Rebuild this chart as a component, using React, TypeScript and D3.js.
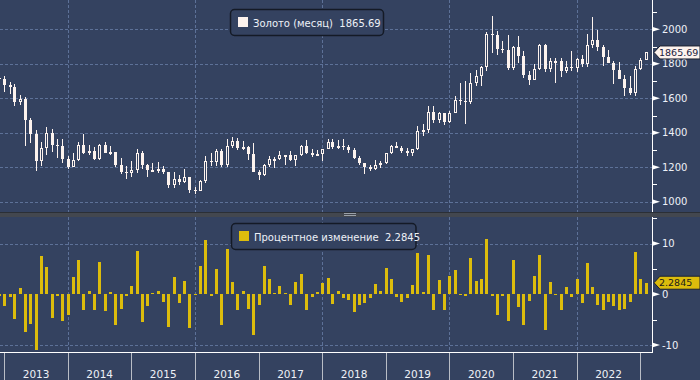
import React from "react";
import * as d3 from "d3";

const months: string[] = [
  "2012-11","2012-12",
  "2013-01","2013-02","2013-03","2013-04","2013-05","2013-06","2013-07","2013-08","2013-09","2013-10","2013-11","2013-12",
  "2014-01","2014-02","2014-03","2014-04","2014-05","2014-06","2014-07","2014-08","2014-09","2014-10","2014-11","2014-12",
  "2015-01","2015-02","2015-03","2015-04","2015-05","2015-06","2015-07","2015-08","2015-09","2015-10","2015-11","2015-12",
  "2016-01","2016-02","2016-03","2016-04","2016-05","2016-06","2016-07","2016-08","2016-09","2016-10","2016-11","2016-12",
  "2017-01","2017-02","2017-03","2017-04","2017-05","2017-06","2017-07","2017-08","2017-09","2017-10","2017-11","2017-12",
  "2018-01","2018-02","2018-03","2018-04","2018-05","2018-06","2018-07","2018-08","2018-09","2018-10","2018-11","2018-12",
  "2019-01","2019-02","2019-03","2019-04","2019-05","2019-06","2019-07","2019-08","2019-09","2019-10","2019-11","2019-12",
  "2020-01","2020-02","2020-03","2020-04","2020-05","2020-06","2020-07","2020-08","2020-09","2020-10","2020-11","2020-12",
  "2021-01","2021-02","2021-03","2021-04","2021-05","2021-06","2021-07","2021-08","2021-09","2021-10","2021-11","2021-12",
  "2022-01","2022-02","2022-03","2022-04","2022-05","2022-06","2022-07","2022-08","2022-09","2022-10","2022-11","2022-12",
  "2023-01",
];

const openV: number[] = [
  1719,1712,
  1675,1663,1578,1595,1472,1393,1234,1313,1396,1327,1323,1250,
  1202,1240,1326,1284,1296,1250,1327,1282,1287,1210,1171,1167,
  1184,1284,1213,1183,1184,1190,1172,1095,1134,1115,1142,1065,
  1061,1118,1238,1233,1293,1215,1322,1351,1309,1316,1277,1173,
  1152,1211,1249,1249,1268,1268,1242,1269,1322,1280,1271,1275,
  1303,1345,1318,1325,1315,1299,1253,1224,1202,1192,1215,1222,
  1282,1321,1313,1292,1284,1305,1409,1414,1520,1472,1513,1464,
  1517,1589,1585,1577,1687,1730,1781,1975,1968,1886,1879,1776,
  1898,1848,1734,1708,1769,1907,1770,1814,1814,1757,1783,1774,
  1829,1797,1909,1937,1897,1837,1807,1766,1711,1661,1633,1768,
  1824.02,
];
const highV: number[] = [
  1755,1727,
  1694,1684,1617,1605,1488,1417,1348,1434,1424,1362,1361,1267,
  1280,1345,1392,1331,1315,1332,1345,1323,1290,1255,1208,1238,
  1307,1292,1219,1224,1232,1205,1172,1170,1157,1191,1142,1088,
  1123,1263,1283,1304,1303,1362,1375,1367,1352,1325,1338,1181,
  1220,1264,1261,1296,1270,1296,1272,1331,1357,1306,1299,1307,
  1366,1361,1356,1365,1326,1309,1265,1225,1214,1243,1237,1284,
  1326,1347,1325,1310,1306,1439,1452,1555,1557,1519,1516,1524,
  1611,1689,1703,1747,1765,1789,1984,2075,1992,1933,1966,1906,
  1959,1872,1756,1798,1913,1917,1833,1834,1834,1814,1877,1831,
  1853,1974,2070,1998,1910,1879,1814,1808,1735,1730,1786,1833,
  1870,
];
const lowV: number[] = [
  1672,1636,
  1626,1555,1562,1321,1338,1180,1207,1271,1291,1251,1226,1187,
  1202,1238,1277,1268,1240,1240,1280,1273,1204,1160,1131,1142,
  1167,1191,1142,1170,1169,1162,1077,1080,1098,1107,1052,1046,
  1061,1107,1208,1207,1200,1200,1310,1301,1302,1241,1171,1123,
  1147,1200,1195,1240,1214,1236,1205,1265,1277,1260,1264,1237,
  1303,1307,1303,1302,1282,1246,1211,1160,1180,1182,1196,1221,
  1276,1311,1281,1266,1266,1301,1382,1400,1459,1459,1445,1454,
  1517,1563,1451,1568,1670,1671,1757,1863,1849,1860,1765,1765,
  1803,1717,1677,1706,1766,1750,1750,1688,1722,1746,1759,1753,
  1781,1781,1890,1872,1787,1805,1681,1710,1615,1617,1616,1765,
  1824,
];
const closeV: number[] = [
  1712,1675,
  1663,1578,1595,1472,1393,1234,1313,1396,1327,1323,1250,1202,
  1240,1326,1284,1296,1250,1327,1282,1287,1210,1171,1167,1184,
  1284,1213,1183,1184,1190,1172,1095,1134,1115,1142,1065,1061,
  1118,1238,1233,1293,1215,1322,1351,1309,1316,1277,1173,1152,
  1211,1249,1249,1268,1268,1242,1269,1322,1280,1271,1275,1303,
  1345,1318,1325,1315,1299,1253,1224,1202,1192,1215,1222,1282,
  1321,1313,1292,1284,1305,1409,1414,1520,1472,1513,1464,1517,
  1589,1585,1577,1687,1730,1781,1975,1968,1886,1879,1776,1898,
  1848,1734,1708,1769,1907,1770,1814,1814,1757,1783,1774,1829,
  1797,1909,1937,1897,1837,1807,1766,1711,1661,1633,1768,1824.02,
  1865.69,
];
const pctV: number[] = [
  -0.4,-2.4,
  -0.5,-4.9,1.2,-7.4,-5.9,-11.0,7.5,5.3,-4.7,-0.3,-5.3,-4.1,
  3.5,6.8,-3.1,0.6,-3.1,6.3,-3.3,0.4,-6.0,-2.9,-0.3,1.6,
  8.5,-5.4,-2.3,0.2,0.6,-1.5,-6.4,3.5,-1.7,2.6,-6.6,-0.1,
  5.5,10.8,-0.3,4.9,-6.0,8.9,2.4,-3.1,0.6,-2.9,-8.0,-2.2,
  5.5,3.1,0.2,1.6,0.2,-2.1,2.4,4.1,-3.1,-0.5,0.4,2.2,
  3.3,-1.9,0.6,-0.7,-1.1,-3.5,-2.1,-1.7,-0.7,2.0,0.6,5.1,
  3.1,-0.6,-1.5,-0.7,1.8,8.1,0.4,7.7,-3.1,2.8,-3.1,3.7,
  4.7,-0.1,-0.3,7.1,2.6,3.0,11.0,-0.3,-4.1,-0.4,-5.3,6.8,
  -2.6,-6.1,-1.4,3.6,7.8,-7.0,2.5,-0.1,-3.1,1.5,-0.5,3.1,
  -1.8,6.2,1.5,-2.1,-3.1,-1.6,-2.3,-3.1,-2.9,-1.6,8.3,3.1,
  2.2845,
];

const priceMajor: number[] = [1000, 1200, 1400, 1600, 1800, 2000];
const priceMinor: number[] = [1100, 1300, 1500, 1700, 1900, 2100];
const pctMajor: number[] = [-10, 0, 10];
const pctMinor: number[] = [-5, 5, 15];
const yearTicks: number[] = [2013, 2014, 2015, 2016, 2017, 2018, 2019, 2020, 2021, 2022, 2023];
const gridYears: number[] = [2014, 2016, 2018, 2020, 2022];
const pctGrid: number[] = [-10, 10];

const lastPrice = "1865.69";
const lastPct = "2.2845";
const legendTop = "Золото (месяц)  1865.69";
const legendBot = "Процентное изменение  2.2845";

const BG = "#344260";
const CANDLE = "#fdf3ee";
const GOLD = "#dcbc0c";
const GRID = "#5d7198";
const TXT = "#eef1f7";
const FONT = "'DejaVu Sans', Verdana, sans-serif";

export default function App() {
  const W = 700, H = 380;
  const AX = 652;
  const x = d3.scaleTime()
    .domain([new Date(2013, 0, 1), new Date(2023, 0, 1)])
    .range([4.3, 640.3]);
  const yP = d3.scaleLinear().domain([1000, 2000]).range([201.7, 29.3]);
  const yC = d3.scaleLinear().domain([-10, 10]).range([345, 243.6]);

  const barX = (m: string) => {
    const [yy, mm] = m.split("-").map(Number);
    return Math.round(x(new Date(yy, mm, 0)));
  };

  const tagPath = (cy: number) =>
    `M654,${cy} L660,${cy - 6.5} L700,${cy - 6.5} L700,${cy + 6.5} L660,${cy + 6.5} Z`;

  return (
    <svg width={W} height={H} style={{ position: "absolute", left: 0, top: 0, display: "block" }}
      fontFamily={FONT}>
      <defs>
        <clipPath id="cpTop"><rect x={0} y={0} width={AX} height={212} /></clipPath>
        <clipPath id="cpBot"><rect x={0} y={217} width={AX} height={136} /></clipPath>
      </defs>
      <rect x={0} y={0} width={W} height={H} fill={BG} />

      {/* grids */}
      <g stroke={GRID} strokeWidth={1} strokeDasharray="3,2" shapeRendering="crispEdges">
        {priceMajor.map((v) => (
          <line key={"hp" + v} x1={0} x2={AX} y1={Math.round(yP(v)) + 0.5} y2={Math.round(yP(v)) + 0.5} />
        ))}
        {pctGrid.map((v) => (
          <line key={"hc" + v} x1={0} x2={AX} y1={Math.round(yC(v)) + 0.5} y2={Math.round(yC(v)) + 0.5} />
        ))}
        {gridYears.map((yv) => {
          const gx = Math.round(x(new Date(yv, 0, 1))) + 0.5;
          return (
            <g key={"gv" + yv}>
              <line x1={gx} x2={gx} y1={0} y2={212} />
              <line x1={gx} x2={gx} y1={217} y2={353} />
            </g>
          );
        })}
      </g>

      {/* candles */}
      <g clipPath="url(#cpTop)" shapeRendering="crispEdges">
        {months.map((m, i) => {
          const cx = barX(m);
          const o = openV[i], h = highV[i], l = lowV[i], c = closeV[i];
          const up = c >= o;
          const yo = Math.round(yP(o)), yc = Math.round(yP(c));
          const yh = Math.round(yP(h)), yl = Math.round(yP(l));
          return (
            <g key={m}>
              <line x1={cx + 0.5} x2={cx + 0.5} y1={yh} y2={yl} stroke={CANDLE} strokeWidth={1} />
              {up ? (
                <rect x={cx - 0.5} y={yc + 0.5} width={2} height={Math.max(yo - yc - 1, 1)}
                  fill={BG} stroke={CANDLE} strokeWidth={1} />
              ) : (
                <rect x={cx - 1} y={yo} width={3} height={Math.max(yc - yo, 1)} fill={CANDLE} />
              )}
            </g>
          );
        })}
      </g>

      {/* percent bars */}
      <g clipPath="url(#cpBot)" shapeRendering="crispEdges">
        {months.map((m, i) => {
          const cx = barX(m);
          const v = pctV[i];
          const y0 = yC(0), y1 = yC(v);
          return (
            <rect key={"b" + m} x={cx - 1} y={Math.min(y0, y1)} width={3}
              height={Math.max(Math.abs(y1 - y0), 1)} fill={GOLD} />
          );
        })}
      </g>

      {/* separator */}
      <rect x={0} y={212} width={W} height={5} fill="#43474f" />
      <line x1={0} x2={W} y1={212.5} y2={212.5} stroke="#2b2f36" />
      <line x1={344} x2={356} y1={213.5} y2={213.5} stroke="#9aa0a9" />
      <line x1={344} x2={356} y1={215.5} y2={215.5} stroke="#9aa0a9" />

      {/* axes lines */}
      <g stroke="#ffffff" strokeWidth={1} shapeRendering="crispEdges">
        <line x1={AX + 0.5} x2={AX + 0.5} y1={0} y2={212} />
        <line x1={AX + 0.5} x2={AX + 0.5} y1={217} y2={353} />
        <line x1={0} x2={AX + 1} y1={352.5} y2={352.5} />
      </g>

      {/* right axis: price */}
      <g fontSize={10} fill={TXT}>
        {priceMinor.map((v) => (
          <line key={"pm" + v} x1={AX} x2={AX + 5} y1={Math.round(yP(v)) + 0.5} y2={Math.round(yP(v)) + 0.5}
            stroke="#fff" shapeRendering="crispEdges" />
        ))}
        {priceMajor.map((v) => {
          const ty = yP(v);
          return (
            <g key={"pM" + v}>
              <path d={`M${AX},${ty - 2.5} L${AX + 8},${ty} L${AX},${ty + 2.5} Z`} fill="#fff" />
              <text x={662} y={ty} dy="0.36em">{v}</text>
            </g>
          );
        })}
      </g>

      {/* right axis: percent */}
      <g fontSize={10} fill={TXT}>
        {pctMinor.map((v) => (
          <line key={"cm" + v} x1={AX} x2={AX + 5} y1={Math.round(yC(v)) + 0.5} y2={Math.round(yC(v)) + 0.5}
            stroke="#fff" shapeRendering="crispEdges" />
        ))}
        {pctMajor.map((v) => {
          const ty = yC(v);
          return (
            <g key={"cM" + v}>
              <path d={`M${AX},${ty - 2.5} L${AX + 8},${ty} L${AX},${ty + 2.5} Z`} fill="#fff" />
              <text x={662} y={ty} dy="0.36em">{v < 0 ? "-" + Math.abs(v) : String(v)}</text>
            </g>
          );
        })}
      </g>

      {/* bottom axis */}
      <g>
        {yearTicks.map((yv) => {
          const tx = Math.round(x(new Date(yv, 0, 1))) + 0.5;
          return <line key={"yt" + yv} x1={tx} x2={tx} y1={353} y2={H} stroke="#b9bdc6" shapeRendering="crispEdges" />;
        })}
        {yearTicks.slice(0, -1).map((yv) => {
          const mx = (x(new Date(yv, 0, 1)) + x(new Date(yv + 1, 0, 1))) / 2;
          return (
            <text key={"yl" + yv} x={mx} y={378} textAnchor="middle" fontSize={10.5} fill={TXT}>{yv}</text>
          );
        })}
      </g>

      {/* value tags */}
      <path d={tagPath(yP(+lastPrice))} fill={CANDLE} stroke="#1c2233" strokeWidth={1} />
      <text x={659} y={yP(+lastPrice)} dy="0.36em" fontSize={9.5} fill="#1a2240">{lastPrice}</text>
      <path d={tagPath(yC(+lastPct))} fill={GOLD} stroke="#1c2233" strokeWidth={1} />
      <text x={659} y={yC(+lastPct)} dy="0.36em" fontSize={9.5} fill="#1a1a1a">{lastPct}</text>

      {/* legends */}
      <g>
        <rect x={230.5} y={9.5} width={153} height={26} rx={4} fill={BG} stroke="#141a26" strokeWidth={1.5} />
        <rect x={238} y={17} width={10} height={10} fill={CANDLE} />
        <text x={253} y={27} fontSize={10} fill={TXT} style={{ whiteSpace: "pre" }}>{legendTop}</text>
      </g>
      <g>
        <rect x={231.5} y={223.5} width={184.5} height={26} rx={4} fill={BG} stroke="#141a26" strokeWidth={1.5} />
        <rect x={239} y={231} width={10} height={10} fill={GOLD} />
        <text x={254} y={241} fontSize={10} fill={TXT} style={{ whiteSpace: "pre" }}>{legendBot}</text>
      </g>
    </svg>
  );
}
